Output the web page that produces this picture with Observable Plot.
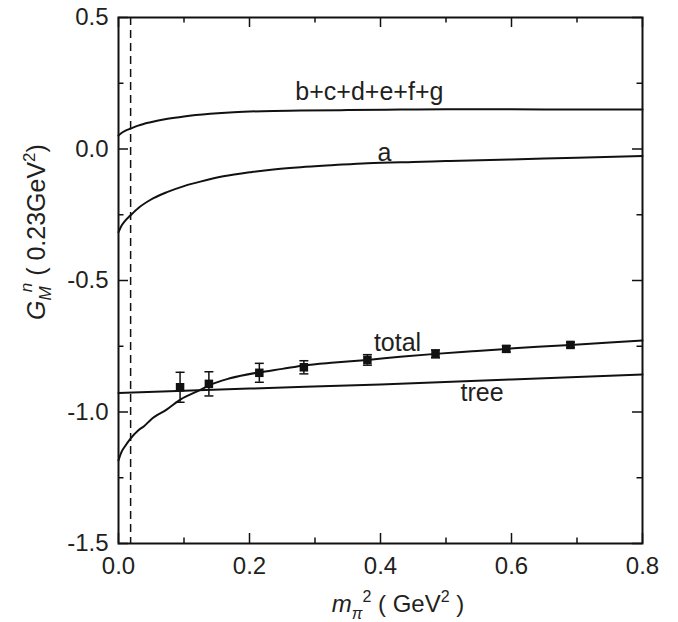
<!DOCTYPE html>
<html>
<head>
<meta charset="utf-8">
<script src="https://cdn.jsdelivr.net/npm/d3@7"></script>
<script src="https://cdn.jsdelivr.net/npm/@observablehq/plot@0.6"></script>
<style>
  html, body { margin: 0; padding: 0; background: white; }
  #chart svg { display: block; }
</style>
</head>
<body>
<div id="chart"></div>
<script>
// ---- data ----
const xMajorTicks = [0, 0.2, 0.4, 0.6, 0.8];
const xMinorTicks = [0.1, 0.3, 0.5, 0.7];
const yMajorTicks = [-1.5, -1.0, -0.5, 0.0, 0.5];
const yMinorTicks = [-1.25, -0.75, -0.25, 0.25];

const physMpi2 = 0.0185; // dashed vertical line

const bcdefgX = [0, 0.005, 0.01, 0.018, 0.03, 0.049, 0.075, 0.1, 0.14, 0.176, 0.22, 0.278, 0.35, 0.43, 0.5, 0.6, 0.7, 0.8];
const bcdefgY = [0.051, 0.062, 0.069, 0.077, 0.089, 0.102, 0.115, 0.124, 0.134, 0.140, 0.144, 0.146, 0.148, 0.150, 0.151, 0.151, 0.150, 0.150];

const aX = [0, 0.005, 0.01, 0.018, 0.03, 0.049, 0.074, 0.1, 0.125, 0.16, 0.202, 0.24, 0.278, 0.33, 0.38, 0.45, 0.5, 0.6, 0.7, 0.8];
const aY = [-0.316, -0.29, -0.273, -0.253, -0.225, -0.193, -0.164, -0.141, -0.124, -0.104, -0.088, -0.077, -0.069, -0.061, -0.054, -0.049, -0.046, -0.040, -0.033, -0.027];

const totalX = [0, 0.005, 0.01, 0.018, 0.03, 0.039, 0.049, 0.074, 0.095, 0.125, 0.138, 0.17, 0.215, 0.25, 0.283, 0.33, 0.38, 0.43, 0.484, 0.54, 0.592, 0.64, 0.69, 0.75, 0.8];
const totalY = [-1.184, -1.15, -1.13, -1.102, -1.07, -1.054, -1.03, -0.99, -0.952, -0.916, -0.899, -0.872, -0.849, -0.836, -0.823, -0.812, -0.802, -0.79, -0.779, -0.769, -0.760, -0.752, -0.745, -0.736, -0.728];

const treeX = [0, 0.2, 0.4, 0.6, 0.8];
const treeY = [-0.928, -0.911, -0.895, -0.876, -0.857];

const latticeX = [0.094, 0.138, 0.215, 0.283, 0.38, 0.484, 0.592, 0.69];
const latticeY = [-0.906, -0.893, -0.851, -0.830, -0.802, -0.779, -0.760, -0.745];
const latticeErr = [0.057, 0.046, 0.036, 0.025, 0.020, 0.015, 0.012, 0.010];

const labelText = ["b+c+d+e+f+g", "a", "total", "tree"];
const labelX = [0.383, 0.406, 0.426, 0.555];
const labelY = [0.217, -0.017, -0.737, -0.927];

// ---- tables ----
const toRows = (xs, ys) => xs.map((x, i) => ({x, y: ys[i]}));
const bcdefg = toRows(bcdefgX, bcdefgY);
const aCurve = toRows(aX, aY);
const total = toRows(totalX, totalY);
const tree = toRows(treeX, treeY);
const lattice = latticeX.map((x, i) => ({x, y: latticeY[i], lo: latticeY[i] - latticeErr[i], hi: latticeY[i] + latticeErr[i]}));
const labels = labelText.map((t, i) => ({t, x: labelX[i], y: labelY[i]}));

const W = 678, H = 622, mL = 118, mR = 36, mT = 17, mB = 79;
const pw = W - mL - mR, ph = H - mT - mB;
const major = 10, minor = 5.5;

const capSymbol = {
  draw(ctx, size) { const r = Math.sqrt(size / Math.PI); ctx.moveTo(-r, 0); ctx.lineTo(r, 0); }
};

const curveStyle = {x: "x", y: "y", curve: "monotone-x", stroke: "#111", strokeWidth: 2};
const tickStyle = {stroke: "#111", strokeWidth: 1.5};

const chart = Plot.plot({
  width: W, height: H,
  marginLeft: mL, marginRight: mR, marginTop: mT, marginBottom: mB,
  x: {domain: [0, 0.8]},
  y: {domain: [-1.5, 0.5]},
  style: {fontFamily: "'Liberation Sans', Arial, Helvetica, sans-serif", color: "#231f20", background: "white"},
  marks: [
    Plot.ruleX([physMpi2], {x: d => d, stroke: "#111", strokeWidth: 1.5, strokeDasharray: "8,5"}),
    Plot.line(bcdefg, curveStyle),
    Plot.line(aCurve, curveStyle),
    Plot.line(total, curveStyle),
    Plot.line(tree, curveStyle),
    Plot.ruleX(lattice, {x: "x", y1: "lo", y2: "hi", stroke: "#111", strokeWidth: 1.5}),
    Plot.dot(lattice, {x: "x", y: "lo", symbol: capSymbol, r: 4.5, stroke: "#111", strokeWidth: 1.5, fill: "none"}),
    Plot.dot(lattice, {x: "x", y: "hi", symbol: capSymbol, r: 4.5, stroke: "#111", strokeWidth: 1.5, fill: "none"}),
    Plot.dot(lattice, {x: "x", y: "y", symbol: "square", r: 4.8, fill: "#111", stroke: "none"}),
    Plot.text(labels, {x: "x", y: "y", text: "t", fontSize: 25, fill: "#231f20"}),
    // inward ticks on all four sides
    Plot.tickX(xMajorTicks, {x: d => d, insetTop: ph - major, ...tickStyle}),
    Plot.tickX(xMinorTicks, {x: d => d, insetTop: ph - minor, ...tickStyle}),
    Plot.tickX(xMajorTicks, {x: d => d, insetBottom: ph - major, ...tickStyle}),
    Plot.tickX(xMinorTicks, {x: d => d, insetBottom: ph - minor, ...tickStyle}),
    Plot.tickY(yMajorTicks, {y: d => d, insetRight: pw - major, ...tickStyle}),
    Plot.tickY(yMinorTicks, {y: d => d, insetRight: pw - minor, ...tickStyle}),
    Plot.tickY(yMajorTicks, {y: d => d, insetLeft: pw - major, ...tickStyle}),
    Plot.tickY(yMinorTicks, {y: d => d, insetLeft: pw - minor, ...tickStyle}),
    Plot.axisX(xMajorTicks, {anchor: "bottom", tickSize: 0, tickPadding: 13, tickFormat: d => d.toFixed(1), fontSize: 24, label: null}),
    Plot.axisY(yMajorTicks, {anchor: "left", tickSize: 0, tickPadding: 10, tickFormat: d => d.toFixed(1), fontSize: 24, label: null}),
    Plot.frame({stroke: "#111", strokeWidth: 2})
  ]
});

document.getElementById("chart").appendChild(chart);

// ---- axis titles with sub/superscripts ----
const svg = d3.select(chart);
const ff = "'Liberation Sans', Arial, Helvetica, sans-serif";

const xt = svg.append("text")
  .attr("x", 398).attr("y", 612)
  .attr("text-anchor", "middle")
  .attr("font-family", ff).attr("font-size", 24).attr("fill", "#231f20");
xt.append("tspan").attr("font-style", "italic").text("m");
xt.append("tspan").attr("font-style", "italic").attr("font-size", 16).attr("dy", 7).text("π");
xt.append("tspan").attr("font-size", 16).attr("dy", -17).text("2");
xt.append("tspan").attr("dy", 10).text(" ( GeV");
xt.append("tspan").attr("font-size", 16).attr("dy", -10).text("2");
xt.append("tspan").attr("dy", 10).text(" )");

const yt = svg.append("text")
  .attr("transform", "translate(45,232) rotate(-90)")
  .attr("text-anchor", "middle")
  .attr("font-family", ff).attr("font-size", 25).attr("fill", "#231f20");
yt.append("tspan").attr("font-style", "italic").text("G");
yt.append("tspan").attr("font-style", "italic").attr("font-size", 17).attr("dy", 6).text("M");
yt.append("tspan").attr("font-style", "italic").attr("font-size", 17).attr("dx", -6).attr("dy", -19).text("n");
yt.append("tspan").attr("dy", 13).text(" ( 0.23GeV");
yt.append("tspan").attr("font-size", 17).attr("dy", -10).text("2");
yt.append("tspan").attr("dy", 10).text(")");
</script>
</body>
</html>
